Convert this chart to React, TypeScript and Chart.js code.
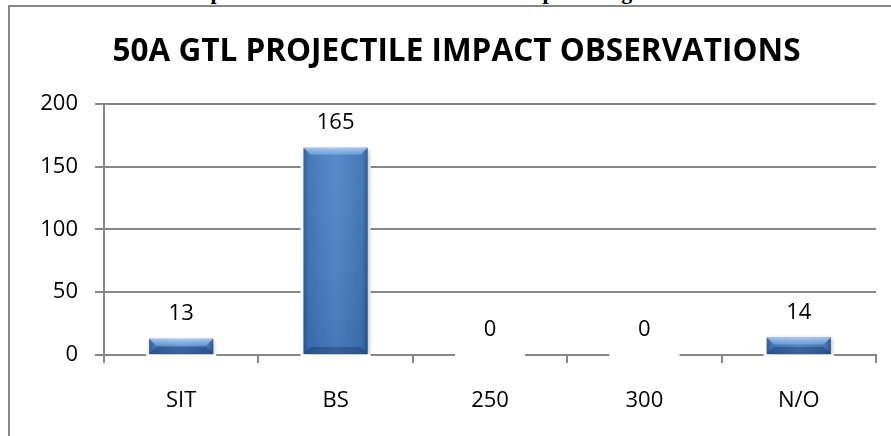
import { useEffect, useRef } from "react";
import { Chart, registerables } from "chart.js";

Chart.register(...registerables);

// Observation counts per impact category
const categories = ["SIT", "BS", "250", "300", "N/O"];
const observations = [13, 165, 0, 0, 14];
const yTickValues = [0, 50, 100, 150, 200];
const chartTitle = "50A GTL PROJECTILE IMPACT OBSERVATIONS";
const caption = "Chart 4. Impact Observations at the Recent Impact Target Area";

const AXIS_GREY = "#878787";
const BAR_BLUE = "#4079c2";
const LABEL_FONT = "'Open Sans', sans-serif";

type BarBox = { left: number; right: number; top: number; bottom: number; x: number };

function barBoxes(chart: any): BarBox[] {
  return chart.getDatasetMeta(0).data.map((bar: any) => {
    const { x, y, base, width } = bar.getProps(["x", "y", "base", "width"], true);
    return {
      x,
      left: x - width / 2,
      right: x + width / 2,
      top: Math.min(y, base),
      bottom: Math.max(y, base),
    };
  });
}

// White halo behind the bars, soft drop shadow, bevelled faces and value labels
const bevelBars = {
  id: "bevelBars",
  beforeDatasetsDraw(chart: any) {
    const ctx = chart.ctx;
    ctx.save();
    ctx.fillStyle = "#ffffff";
    barBoxes(chart).forEach((b) => {
      ctx.fillRect(b.left - 3, b.top - 3, b.right - b.left + 6, b.bottom - b.top + 6);
    });
    ctx.restore();
  },
  beforeDatasetDraw(chart: any) {
    const ctx = chart.ctx;
    ctx.save();
    ctx.shadowColor = "rgba(0,0,0,0.32)";
    ctx.shadowBlur = 5;
    ctx.shadowOffsetX = 1;
    ctx.shadowOffsetY = 2;
  },
  afterDatasetDraw(chart: any) {
    chart.ctx.restore();
  },
  afterDatasetsDraw(chart: any) {
    const ctx = chart.ctx;
    const values = chart.data.datasets[0].data as number[];
    barBoxes(chart).forEach((b, i) => {
      const h = b.bottom - b.top;
      if (h > 0.5) {
        const w = b.right - b.left;
        const bev = Math.min(7, h / 2.2);
        ctx.save();
        // side shading
        const side = ctx.createLinearGradient(b.left, 0, b.right, 0);
        side.addColorStop(0, "rgba(15,40,80,0.42)");
        side.addColorStop(0.08, "rgba(15,40,80,0.1)");
        side.addColorStop(0.5, "rgba(255,255,255,0.08)");
        side.addColorStop(0.92, "rgba(15,40,80,0.1)");
        side.addColorStop(1, "rgba(15,40,80,0.48)");
        ctx.fillStyle = side;
        ctx.fillRect(b.left, b.top, w, h);
        // gentle darkening toward the base
        const vert = ctx.createLinearGradient(0, b.top, 0, b.bottom);
        vert.addColorStop(0, "rgba(255,255,255,0.06)");
        vert.addColorStop(1, "rgba(10,30,60,0.1)");
        ctx.fillStyle = vert;
        ctx.fillRect(b.left, b.top, w, h);
        // top bevel
        const topG = ctx.createLinearGradient(0, b.top, 0, b.top + bev);
        topG.addColorStop(0, "rgba(210,232,255,0.7)");
        topG.addColorStop(1, "rgba(150,195,245,0.4)");
        ctx.fillStyle = topG;
        ctx.beginPath();
        ctx.moveTo(b.left, b.top);
        ctx.lineTo(b.right, b.top);
        ctx.lineTo(b.right - bev, b.top + bev);
        ctx.lineTo(b.left + bev, b.top + bev);
        ctx.closePath();
        ctx.fill();
        // bottom bevel
        ctx.fillStyle = "rgba(10,30,70,0.28)";
        ctx.beginPath();
        ctx.moveTo(b.left, b.bottom);
        ctx.lineTo(b.right, b.bottom);
        ctx.lineTo(b.right - bev, b.bottom - bev);
        ctx.lineTo(b.left + bev, b.bottom - bev);
        ctx.closePath();
        ctx.fill();
        ctx.restore();
      }
      ctx.save();
      ctx.fillStyle = "#000000";
      ctx.font = `22px ${LABEL_FONT}`;
      ctx.textAlign = "center";
      ctx.textBaseline = "middle";
      ctx.fillText(String(values[i]), b.x, b.top - 25);
      ctx.restore();
    });
  },
};

export default function App() {
  const canvasRef = useRef<HTMLCanvasElement | null>(null);

  useEffect(() => {
    const canvas = canvasRef.current;
    if (!canvas) return;
    const chart = new Chart(canvas, {
      type: "bar",
      data: {
        labels: categories,
        datasets: [
          {
            data: observations,
            backgroundColor: BAR_BLUE,
            borderWidth: 0,
            categoryPercentage: 1,
            barPercentage: 0.415,
          },
        ],
      },
      options: {
        responsive: false,
        animation: false,
        devicePixelRatio: 1,
        layout: { padding: { left: 27, right: 27, top: 0, bottom: 0 } },
        plugins: {
          legend: { display: false },
          tooltip: { enabled: false },
          title: {
            display: true,
            text: chartTitle,
            color: "#000000",
            font: { family: LABEL_FONT, size: 31.5, weight: "bold" },
            padding: { top: 26, bottom: 33 },
          },
        },
        scales: {
          x: {
            grid: {
              drawOnChartArea: false,
              drawTicks: true,
              tickLength: 8,
              color: AXIS_GREY,
              lineWidth: 2,
              offset: true,
            },
            border: { display: true, color: AXIS_GREY, width: 2 },
            ticks: {
              color: "#000000",
              font: { family: LABEL_FONT, size: 22 },
              padding: 25,
              maxRotation: 0,
            },
            afterFit: (scale: any) => {
              scale.height = 92;
            },
          },
          y: {
            min: yTickValues[0],
            max: yTickValues[yTickValues.length - 1],
            afterBuildTicks: (scale: any) => {
              scale.ticks = yTickValues.map((v) => ({ value: v }));
            },
            grid: {
              color: AXIS_GREY,
              lineWidth: 2,
              drawTicks: true,
              tickLength: 9,
            },
            border: { display: true, color: AXIS_GREY, width: 2 },
            ticks: {
              color: "#000000",
              font: { family: LABEL_FONT, size: 22 },
              padding: 17,
            },
            afterFit: (scale: any) => {
              scale.width = 67;
            },
          },
        },
      },
      plugins: [bevelBars],
    });
    return () => chart.destroy();
  }, []);

  return (
    <div
      style={{
        position: "absolute",
        left: 0,
        top: 0,
        width: 891,
        height: 436,
        overflow: "hidden",
        background: "#ffffff",
      }}
    >
      <div
        style={{
          position: "absolute",
          left: 100,
          top: -19,
          whiteSpace: "nowrap",
          fontFamily: "'Liberation Serif', serif",
          fontWeight: "bold",
          fontSize: 22,
          lineHeight: "22px",
          color: "#000000",
        }}
      >
        {caption}
      </div>
      <div
        style={{
          position: "absolute",
          left: 8,
          top: 5,
          width: 920,
          height: 460,
          borderLeft: `2px solid ${AXIS_GREY}`,
          borderTop: `2px solid ${AXIS_GREY}`,
          background: "#ffffff",
        }}
      >
        <canvas
          ref={canvasRef}
          width={893}
          height={440}
          style={{ display: "block", width: 893, height: 440 }}
        />
      </div>
    </div>
  );
}
